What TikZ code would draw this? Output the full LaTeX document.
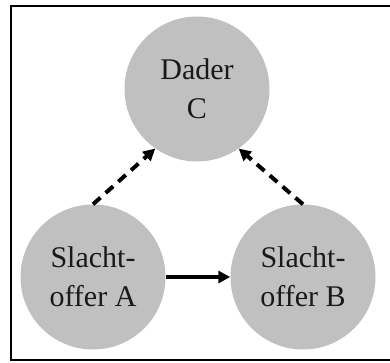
\documentclass[tikz,border=0pt]{standalone}
\usepackage{fontspec}
\setmainfont{Liberation Serif}
\usetikzlibrary{arrows.meta}
\definecolor{discgray}{RGB}{192,192,192}
\tikzset{
  party/.style={circle, fill=discgray, minimum size=145pt, inner sep=0pt,
    align=center, font=\fontsize{30}{39}\selectfont, text=black!90},
  link/.style={line width=4pt, -{Triangle[length=12pt,width=12pt]}},
  weaklink/.style={link, dash pattern=on 10pt off 7pt},
  frame/.style={line width=2.5pt}
}
\begin{document}
\begin{tikzpicture}[x=1pt,y=-1pt]
  \useasboundingbox (0,0) rectangle (390,363);
  \begin{scope}
    \clip (0,0) rectangle (390,363);
    \draw[frame] (11,6) rectangle (400,360);
  \end{scope}
  \node[party] (C) at (197,89)  {Dader\\C};
  \node[party] (A) at (93,277)  {Slacht-\\offer A};
  \node[party] (B) at (303,277) {Slacht-\\offer B};
  \draw[link] (A.east) -- (B.west);
  \draw[weaklink] (A.north) -- (C.-125);
  \draw[weaklink] (B.north) -- (C.-55);
\end{tikzpicture}
\end{document}
